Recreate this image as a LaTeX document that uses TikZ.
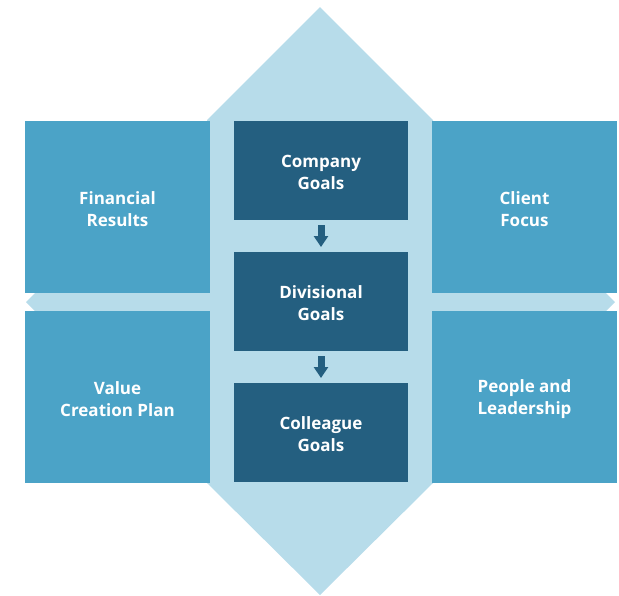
\documentclass[tikz,border=0pt]{standalone}
\usepackage{fontspec}
\setmainfont{Open Sans}
\usetikzlibrary{arrows.meta}
\definecolor{paleblue}{HTML}{B7DCEA}
\definecolor{midblue}{HTML}{4BA3C7}
\definecolor{deepblue}{HTML}{245F80}
\tikzset{
  label text/.style={text=white, font=\fontsize{17}{22}\selectfont\bfseries,
    align=center, inner sep=0pt, yshift=-2pt},
  sidebox/.style={fill=midblue, draw=none, inner sep=0pt, outer sep=0pt,
    minimum width=185pt, minimum height=172pt},
  goalbox/.style={fill=deepblue, draw=none, inner sep=0pt, outer sep=0pt,
    minimum width=174pt, minimum height=99pt},
  flow/.style={draw=deepblue, line width=7pt, shorten <=5pt, shorten >=5pt,
    -{Triangle[width=14pt,length=11pt]}}
}
\begin{document}
\begin{tikzpicture}[x=1pt,y=-1pt]
  \useasboundingbox (0,0) rectangle (619,595);
  % central elongated hexagon
  \fill[paleblue] (320,7) -- (433,120) -- (433,483) -- (320,595)
    -- (207,483) -- (207,120) -- cycle;
  % horizontal double-pointed band
  \fill[paleblue] (26,302) -- (35,293) -- (606,293) -- (615,302)
    -- (606,311) -- (35,311) -- cycle;
  % four outer quadrants
  \node[sidebox, label={[label text]center:{Financial\\Results}}] (fin) at (117.5,207) {};
  \node[sidebox, label={[label text]center:{Client\\Focus}}] (cli) at (524.5,207) {};
  \node[sidebox, label={[label text]center:{Value\\Creation Plan}}] (val) at (117.5,397) {};
  \node[sidebox, label={[label text]center:{People and\\Leadership}}] (ppl) at (524.5,397) {};
  % cascade of goals
  \node[goalbox, label={[label text]center:{Company\\Goals}}] (comp) at (321,170.5) {};
  \node[goalbox, label={[label text]center:{Divisional\\Goals}}] (divi) at (321,301.5) {};
  \node[goalbox, label={[label text]center:{Colleague\\Goals}}] (coll) at (321,432.5) {};
  \draw[flow] (comp.south) -- (divi.north);
  \draw[flow] (divi.south) -- (coll.north);
\end{tikzpicture}
\end{document}
